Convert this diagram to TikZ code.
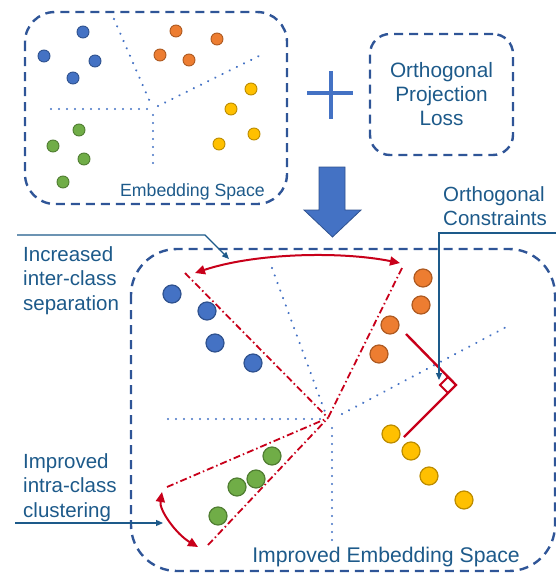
\documentclass[tikz,border=0pt]{standalone}
\usepackage{fontspec}
\setmainfont{Liberation Sans}
\usetikzlibrary{arrows.meta,decorations.markings}
\definecolor{boxc}{HTML}{2F5597}
\definecolor{txtc}{HTML}{1D5A8A}
\definecolor{lblue}{HTML}{4472C4}
\definecolor{dblue}{HTML}{2F528F}
\definecolor{orangef}{HTML}{ED7D31}
\definecolor{oranged}{HTML}{AE5A21}
\definecolor{greenf}{HTML}{70AD47}
\definecolor{greend}{HTML}{507E32}
\definecolor{yellowf}{HTML}{FFC000}
\definecolor{yellowd}{HTML}{BC8C00}
\definecolor{redc}{HTML}{C8001A}
\begin{document}
\begin{tikzpicture}[x=1pt,y=-1pt,
  dashbox/.style={draw=boxc, line width=2.4pt, dash pattern=on 9pt off 6pt},
  sepline/.style={postaction={decorate, decoration={markings,
      mark=between positions 0 and 1 step 8pt with {\fill[lblue] (0,0) circle (1.2pt);}}}},
  redline/.style={draw=redc, line width=1.8pt, dash pattern=on 7pt off 3pt on 1.5pt off 3pt},
  sdot/.style={circle, inner sep=0pt, minimum size=12pt, line width=0.9pt},
  ldot/.style={circle, inner sep=0pt, minimum size=18pt, line width=1.2pt},
  cb/.style={fill=lblue, draw=dblue},
  co/.style={fill=orangef, draw=oranged},
  cg/.style={fill=greenf, draw=greend},
  cy/.style={fill=yellowf, draw=yellowd},
  lbl/.style={text=txtc, font=\fontsize{20.5}{24.5}\selectfont, inner sep=0pt, align=left},
  callout/.style={draw=txtc, line width=1.2pt, -{Triangle[length=7pt,width=6pt]}},
  redarrow/.style={draw=redc, line width=2pt, {Triangle[length=10pt,width=9pt]}-{Triangle[length=10pt,width=9pt]}}
]
\useasboundingbox (0,0) rectangle (556,573);

% ---------- top-left embedding space ----------
\draw[dashbox, rounded corners=30pt] (25,12) rectangle (287,204);
\path[sepline] (114,19) -- (150,102);
\path[sepline] (51,109) -- (147,109);
\path[sepline] (158,106) -- (265,53);
\path[sepline] (153,115) -- (153,170);
\node[sdot,cb] (b1) at (83,32) {};
\node[sdot,cb] (b2) at (44,56) {};
\node[sdot,cb] (b3) at (95,61) {};
\node[sdot,cb] (b4) at (73,78) {};
\node[sdot,co] (o1) at (176,31) {};
\node[sdot,co] (o2) at (217,39) {};
\node[sdot,co] (o3) at (160,55) {};
\node[sdot,co] (o4) at (189,60) {};
\node[sdot,cy] (y1) at (251,89) {};
\node[sdot,cy] (y2) at (231,109) {};
\node[sdot,cy] (y3) at (254,134) {};
\node[sdot,cy] (y4) at (219,144) {};
\node[sdot,cg] (g1) at (79,130) {};
\node[sdot,cg] (g2) at (53,146) {};
\node[sdot,cg] (g3) at (84,159) {};
\node[sdot,cg] (g4) at (63,182) {};
\node[text=txtc, font=\fontsize{17.7}{20}\selectfont, inner sep=0pt, anchor=base east] (embl) at (265,196) {Embedding Space};

% ---------- plus ----------
\draw[lblue, line width=3.3pt] (307,93) -- (353,93);
\draw[lblue, line width=3.3pt] (331,71) -- (331,119);

% ---------- loss box ----------
\node[dashbox, rounded corners=20pt, minimum width=143pt, minimum height=121pt, text=txtc,
      font=\fontsize{20.8}{24}\selectfont, align=center] (loss) at (441.5,94.5)
      {Orthogonal\\Projection\\Loss};

% ---------- big arrow ----------
\draw[fill=lblue, draw=dblue, line width=0.8pt, line join=miter]
  (319,167) -- (345,167) -- (345,210) -- (361,210) -- (332.5,237) -- (304,210) -- (319,210) -- cycle;

% ---------- bottom improved space ----------
\draw[dashbox, rounded corners=46pt] (131,249) rectangle (555,571);
\node[text=txtc, font=\fontsize{21.2}{24}\selectfont, inner sep=0pt, anchor=base east] (impl) at (520,562) {Improved Embedding Space};

\coordinate (c) at (328,418);
\path[sepline] (272,268) -- (325,412);
\path[sepline] (168,419) -- (322,419);
\path[sepline] (342,414) -- (510,325);
\path[sepline] (332,428) -- (332,542);

% red dash-dot cones
\coordinate (rb) at (185,273);
\coordinate (ro) at (402,268);
\coordinate (rg1) at (167,487);
\coordinate (rg2) at (208,545);
\draw[redline] (rb) -- (c);
\draw[redline] (ro) -- (c);
\draw[redline] (rg1) -- (c);
\draw[redline] (rg2) -- (c);

% red double arrows
\coordinate (ta1) at (195,273);
\coordinate (ta2) at (400,263);
\draw[redarrow] (ta1) .. controls (255,253) and (340,251) .. (ta2);
\coordinate (ga1) at (162,492);
\coordinate (ga2) at (198,547);
\draw[redarrow] (ga1) .. controls (159,510) and (176,534) .. (ga2);

% orthogonal right angle
\coordinate (ra1) at (406,334);
\coordinate (rac) at (456,385);
\coordinate (ra2) at (404,437);
\draw[redc, line width=2.4pt, line join=miter] (ra1) -- (rac) -- (ra2);
\draw[redc, line width=2pt, line join=miter] (448,377) -- (440,385) -- (448,393);

% dots
\node[ldot,cb] (B1) at (172,294) {};
\node[ldot,cb] (B2) at (207,311) {};
\node[ldot,cb] (B3) at (215,343) {};
\node[ldot,cb] (B4) at (253,363) {};
\node[ldot,co] (O1) at (423,278) {};
\node[ldot,co] (O2) at (421,305) {};
\node[ldot,co] (O3) at (390,325) {};
\node[ldot,co] (O4) at (379,354) {};
\node[ldot,cg] (G1) at (272,456) {};
\node[ldot,cg] (G2) at (256,479) {};
\node[ldot,cg] (G3) at (237,487) {};
\node[ldot,cg] (G4) at (218,516) {};
\node[ldot,cy] (Y1) at (391,434) {};
\node[ldot,cy] (Y2) at (411,451) {};
\node[ldot,cy] (Y3) at (429,476) {};
\node[ldot,cy] (Y4) at (464,500) {};

% ---------- labels and callouts ----------
\node[lbl, anchor=north west] (inter) at (23,246) {Increased\\inter-class\\separation};
\node[lbl, anchor=north west] (intra) at (23,453) {Improved\\intra-class\\clustering};
\node[lbl, anchor=north west] (orth) at (443,186) {Orthogonal\\Constraints};

\coordinate (c1s) at (17,235);
\coordinate (c1k) at (205,235);
\coordinate (c1e) at (229,259);
\draw[callout] (c1s) -- (c1k) -- (c1e);
\coordinate (c2s) at (15,523);
\coordinate (c2e) at (163,523);
\draw[callout] (c2s) -- (c2e);
\coordinate (c3s) at (556,233);
\coordinate (c3k) at (439,233);
\coordinate (c3e) at (439,380);
\draw[callout] (c3s) -- (c3k) -- (c3e);
\end{tikzpicture}
\end{document}
